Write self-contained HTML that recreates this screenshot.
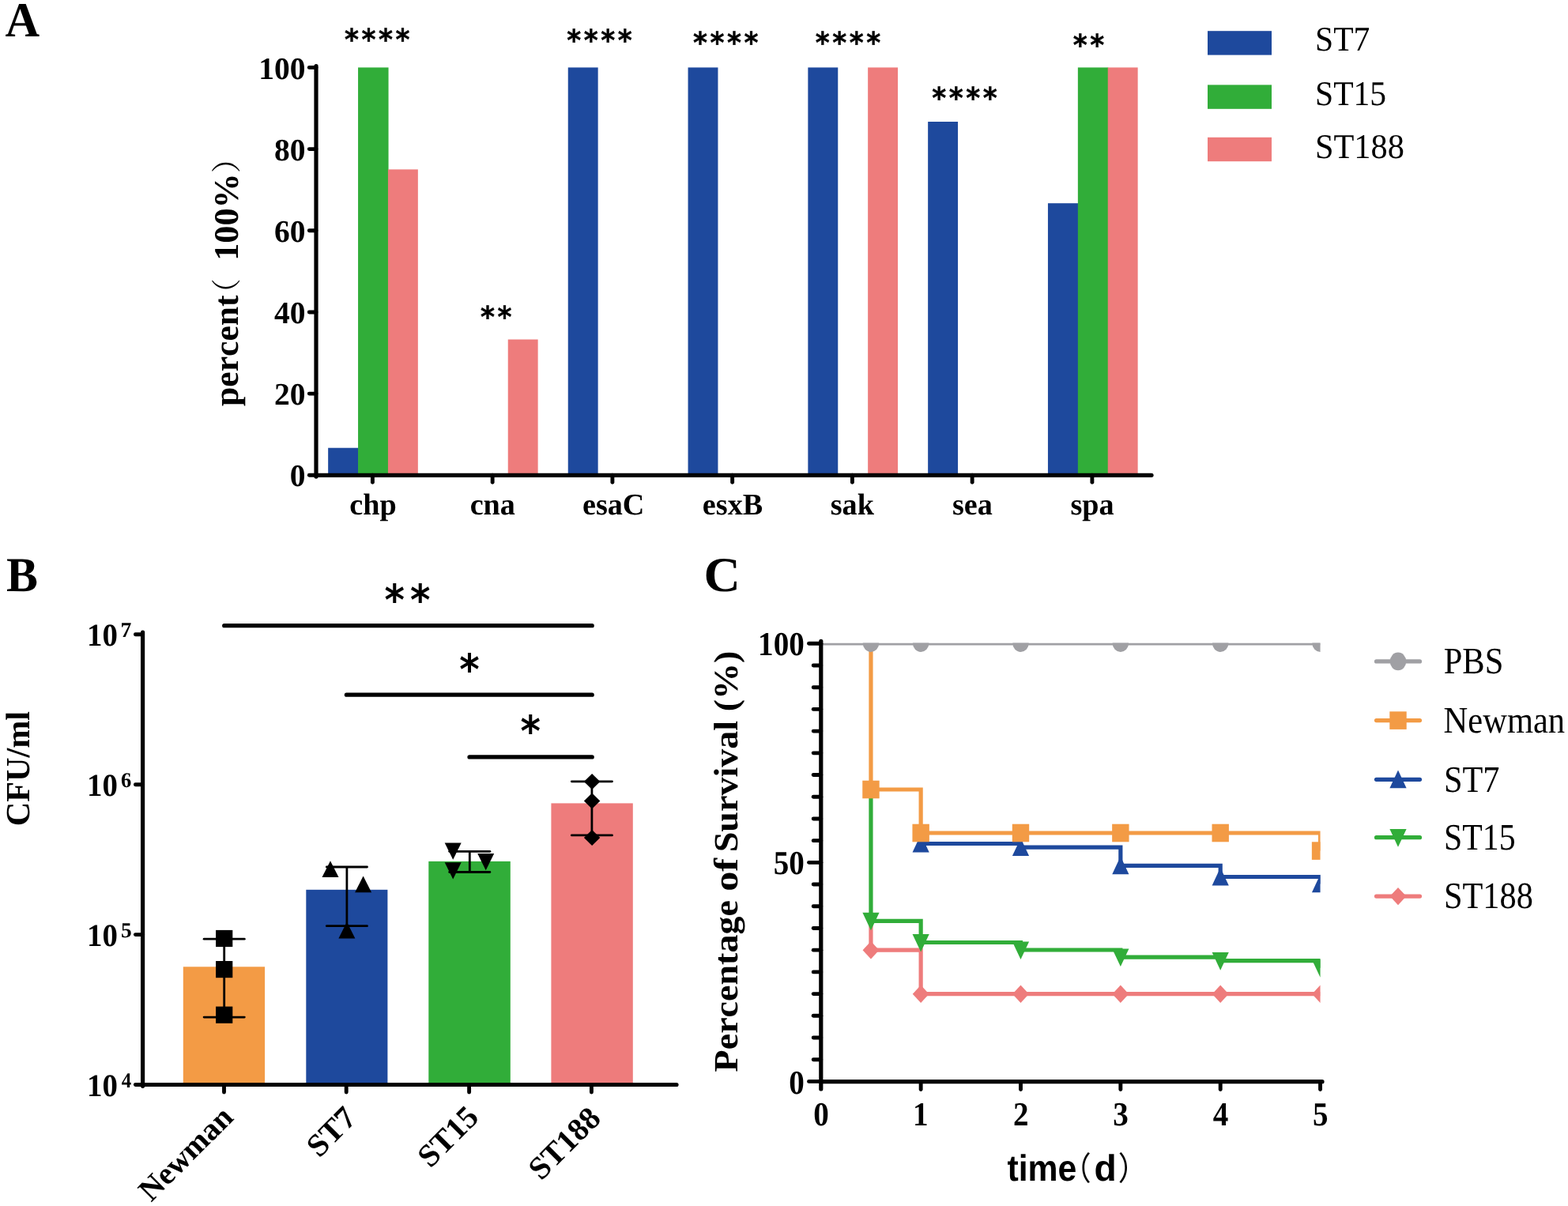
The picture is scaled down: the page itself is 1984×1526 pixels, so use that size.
<!DOCTYPE html>
<html lang="en">
<head>
<meta charset="utf-8">
<title>Figure: virulence genes, CFU and survival</title>
<style>
html,body{margin:0;padding:0;background:#fff;}
body{width:1984px;height:1526px;overflow:hidden;}
svg{display:block;}
text{white-space:pre;font-kerning:none;}
</style>
</head>
<body>
<svg width="1984" height="1526" viewBox="0 0 1984 1526" text-rendering="geometricPrecision" role="img" aria-label="Three-panel figure: A, virulence gene percentages for ST7, ST15 and ST188; B, CFU/ml bar chart; C, survival curves">
<rect x="0" y="0" width="1984" height="1526" fill="#ffffff"/>
<g id="panelA">
<text transform="translate(6.41 46) scale(0.9745 1)" font-family="'Liberation Serif', serif" font-weight="bold" font-size="62" fill="#000">A</text>
<rect x="415.15" y="566.73" width="38.5" height="34.57" fill="#1E499D"/>
<rect x="453.05" y="85.4" width="38.5" height="515.9" fill="#31AD39"/>
<rect x="490.95" y="214.37" width="37.9" height="386.93" fill="#EE7C7C"/>
<rect x="642.75" y="429.51" width="37.9" height="171.79" fill="#EE7C7C"/>
<rect x="718.75" y="85.4" width="37.9" height="515.9" fill="#1E499D"/>
<rect x="870.55" y="85.4" width="37.9" height="515.9" fill="#1E499D"/>
<rect x="1022.35" y="85.4" width="37.9" height="515.9" fill="#1E499D"/>
<rect x="1098.15" y="85.4" width="37.9" height="515.9" fill="#EE7C7C"/>
<rect x="1174.15" y="154.01" width="37.9" height="447.29" fill="#1E499D"/>
<rect x="1325.95" y="257.19" width="38.5" height="344.11" fill="#1E499D"/>
<rect x="1363.85" y="85.4" width="38.5" height="515.9" fill="#31AD39"/>
<rect x="1401.75" y="85.4" width="37.9" height="515.9" fill="#EE7C7C"/>
<line x1="400" y1="83.6" x2="400" y2="603.1" stroke="#000" stroke-width="5.2" stroke-linecap="round"/>
<line x1="399.5" y1="601.3" x2="1457" y2="601.3" stroke="#000" stroke-width="5.2" stroke-linecap="round"/>
<line x1="391.3" y1="601.3" x2="400" y2="601.3" stroke="#000" stroke-width="4.9" stroke-linecap="round"/>
<text transform="translate(366.65 615.4)" font-family="'Liberation Serif', serif" font-weight="bold" font-size="39.5" fill="#000">0</text>
<line x1="391.3" y1="498.12" x2="400" y2="498.12" stroke="#000" stroke-width="4.9" stroke-linecap="round"/>
<text transform="translate(346.9 512.22)" font-family="'Liberation Serif', serif" font-weight="bold" font-size="39.5" fill="#000">20</text>
<line x1="391.3" y1="394.94" x2="400" y2="394.94" stroke="#000" stroke-width="4.9" stroke-linecap="round"/>
<text transform="translate(346.9 409.04)" font-family="'Liberation Serif', serif" font-weight="bold" font-size="39.5" fill="#000">40</text>
<line x1="391.3" y1="291.76" x2="400" y2="291.76" stroke="#000" stroke-width="4.9" stroke-linecap="round"/>
<text transform="translate(346.9 305.86)" font-family="'Liberation Serif', serif" font-weight="bold" font-size="39.5" fill="#000">60</text>
<line x1="391.3" y1="188.58" x2="400" y2="188.58" stroke="#000" stroke-width="4.9" stroke-linecap="round"/>
<text transform="translate(346.9 202.68)" font-family="'Liberation Serif', serif" font-weight="bold" font-size="39.5" fill="#000">80</text>
<line x1="391.3" y1="85.4" x2="400" y2="85.4" stroke="#000" stroke-width="4.9" stroke-linecap="round"/>
<text transform="translate(327.15 99.5)" font-family="'Liberation Serif', serif" font-weight="bold" font-size="39.5" fill="#000">100</text>
<line x1="471.4" y1="601.3" x2="471.4" y2="610.2" stroke="#000" stroke-width="4.9" stroke-linecap="round"/>
<text transform="translate(442.3 650.8)" font-family="'Liberation Serif', serif" font-weight="bold" font-size="38.2" fill="#000">chp</text>
<line x1="623.15" y1="601.3" x2="623.15" y2="610.2" stroke="#000" stroke-width="4.9" stroke-linecap="round"/>
<text transform="translate(594.64 650.8)" font-family="'Liberation Serif', serif" font-weight="bold" font-size="38.2" fill="#000">cna</text>
<line x1="774.9" y1="601.3" x2="774.9" y2="610.2" stroke="#000" stroke-width="4.9" stroke-linecap="round"/>
<text transform="translate(736.95 650.8)" font-family="'Liberation Serif', serif" font-weight="bold" font-size="38.2" fill="#000">esaC</text>
<line x1="926.65" y1="601.3" x2="926.65" y2="610.2" stroke="#000" stroke-width="4.9" stroke-linecap="round"/>
<text transform="translate(888.83 650.8)" font-family="'Liberation Serif', serif" font-weight="bold" font-size="38.2" fill="#000">esxB</text>
<line x1="1078.4" y1="601.3" x2="1078.4" y2="610.2" stroke="#000" stroke-width="4.9" stroke-linecap="round"/>
<text transform="translate(1050.74 650.8)" font-family="'Liberation Serif', serif" font-weight="bold" font-size="38.2" fill="#000">sak</text>
<line x1="1230.15" y1="601.3" x2="1230.15" y2="610.2" stroke="#000" stroke-width="4.9" stroke-linecap="round"/>
<text transform="translate(1204.9 650.8)" font-family="'Liberation Serif', serif" font-weight="bold" font-size="38.2" fill="#000">sea</text>
<line x1="1381.9" y1="601.3" x2="1381.9" y2="610.2" stroke="#000" stroke-width="4.9" stroke-linecap="round"/>
<text transform="translate(1354.51 650.8)" font-family="'Liberation Serif', serif" font-weight="bold" font-size="38.2" fill="#000">spa</text>
<g id="a-ylabel"><text transform="translate(301.2 511) rotate(-90) translate(-3.05 0)" font-family="'Liberation Serif', serif" font-weight="bold" font-size="43.7" fill="#000">percent</text><text transform="translate(300.3 390.1) rotate(-90)" font-family="'Liberation Serif', 'Noto Serif CJK SC', serif" font-weight="normal" font-size="37.7" fill="#000">（</text><text transform="translate(301.2 511) rotate(-90) translate(170.1 0) scale(1.0123 1)" font-family="'Liberation Serif', serif" font-weight="bold" font-size="43.7" fill="#000"> 100%</text><text transform="translate(300.3 218.9) rotate(-90)" font-family="'Liberation Serif', 'Noto Serif CJK SC', serif" font-weight="normal" font-size="37.7" fill="#000">）</text></g>
<text transform="translate(435.96 63.2) scale(0.9227 1)" font-family="'DejaVu Sans', sans-serif" font-weight="bold" font-size="37.26" letter-spacing="3.82" fill="#000" stroke="#000" stroke-width="0.45" stroke-linejoin="miter">****</text>
<text transform="translate(608.06 414.4) scale(0.9227 1)" font-family="'DejaVu Sans', sans-serif" font-weight="bold" font-size="37.26" letter-spacing="3.82" fill="#000" stroke="#000" stroke-width="0.45" stroke-linejoin="miter">**</text>
<text transform="translate(717.26 64.2) scale(0.9227 1)" font-family="'DejaVu Sans', sans-serif" font-weight="bold" font-size="37.26" letter-spacing="3.82" fill="#000" stroke="#000" stroke-width="0.45" stroke-linejoin="miter">****</text>
<text transform="translate(877.06 66.7) scale(0.9227 1)" font-family="'DejaVu Sans', sans-serif" font-weight="bold" font-size="37.26" letter-spacing="3.82" fill="#000" stroke="#000" stroke-width="0.45" stroke-linejoin="miter">****</text>
<text transform="translate(1031.76 67.2) scale(0.9227 1)" font-family="'DejaVu Sans', sans-serif" font-weight="bold" font-size="37.26" letter-spacing="3.82" fill="#000" stroke="#000" stroke-width="0.45" stroke-linejoin="miter">****</text>
<text transform="translate(1179.16 136.8) scale(0.9227 1)" font-family="'DejaVu Sans', sans-serif" font-weight="bold" font-size="37.26" letter-spacing="3.82" fill="#000" stroke="#000" stroke-width="0.45" stroke-linejoin="miter">****</text>
<text transform="translate(1357.86 69.7) scale(0.9227 1)" font-family="'DejaVu Sans', sans-serif" font-weight="bold" font-size="37.26" letter-spacing="3.82" fill="#000" stroke="#000" stroke-width="0.45" stroke-linejoin="miter">**</text>
<rect x="1528" y="39.2" width="81" height="30.4" fill="#1E499D"/>
<text transform="translate(1664.02 63.9) scale(0.9488 1)" font-family="'Liberation Serif', serif" font-weight="normal" font-size="43.8" fill="#000">ST7</text>
<rect x="1528" y="107.4" width="81" height="30.4" fill="#31AD39"/>
<text transform="translate(1664.02 132.6) scale(0.9493 1)" font-family="'Liberation Serif', serif" font-weight="normal" font-size="43.8" fill="#000">ST15</text>
<rect x="1528" y="173.8" width="81" height="30.4" fill="#EE7C7C"/>
<text transform="translate(1663.97 199.8) scale(0.9660 1)" font-family="'Liberation Serif', serif" font-weight="normal" font-size="43.8" fill="#000">ST188</text>
</g>
<g id="panelB">
<text transform="translate(8.07 748.2) scale(0.9671 1)" font-family="'Liberation Serif', serif" font-weight="bold" font-size="62" fill="#000">B</text>
<rect x="231.8" y="1223.3" width="103.3" height="149.2" fill="#F39B45"/>
<rect x="387.3" y="1125.8" width="103.1" height="246.7" fill="#1E499D"/>
<rect x="542.3" y="1089.9" width="103.5" height="282.6" fill="#31AD39"/>
<rect x="697.4" y="1016.4" width="103.4" height="356.1" fill="#EE7C7C"/>
<line x1="180.6" y1="800.1" x2="180.6" y2="1374.3" stroke="#000" stroke-width="5.2" stroke-linecap="round"/>
<line x1="180.1" y1="1372.5" x2="856" y2="1372.5" stroke="#000" stroke-width="5.2" stroke-linecap="round"/>
<line x1="171.4" y1="1372.5" x2="180.6" y2="1372.5" stroke="#000" stroke-width="4.9" stroke-linecap="round"/>
<g><text transform="translate(110.09 1387.1) scale(0.9652 1)" font-family="'Liberation Serif', serif" font-weight="bold" font-size="40.3" fill="#000">10</text><text transform="translate(153.66 1375.7) scale(0.9185 1)" font-family="'Liberation Serif', serif" font-weight="bold" font-size="27" fill="#000">4</text></g>
<line x1="171.4" y1="1182.6" x2="180.6" y2="1182.6" stroke="#000" stroke-width="4.9" stroke-linecap="round"/>
<g><text transform="translate(110.09 1197.2) scale(0.9652 1)" font-family="'Liberation Serif', serif" font-weight="bold" font-size="40.3" fill="#000">10</text><text transform="translate(152.9 1185.8) scale(1.0149 1)" font-family="'Liberation Serif', serif" font-weight="bold" font-size="27" fill="#000">5</text></g>
<line x1="171.4" y1="992.7" x2="180.6" y2="992.7" stroke="#000" stroke-width="4.9" stroke-linecap="round"/>
<g><text transform="translate(110.09 1007.3) scale(0.9652 1)" font-family="'Liberation Serif', serif" font-weight="bold" font-size="40.3" fill="#000">10</text><text transform="translate(153.09 995.9) scale(0.9842 1)" font-family="'Liberation Serif', serif" font-weight="bold" font-size="27" fill="#000">6</text></g>
<line x1="171.4" y1="802.8" x2="180.6" y2="802.8" stroke="#000" stroke-width="4.9" stroke-linecap="round"/>
<g><text transform="translate(110.09 817.4) scale(0.9652 1)" font-family="'Liberation Serif', serif" font-weight="bold" font-size="40.3" fill="#000">10</text><text transform="translate(152.42 806) scale(1.0267 1)" font-family="'Liberation Serif', serif" font-weight="bold" font-size="27" fill="#000">7</text></g>
<line x1="283.5" y1="1372.5" x2="283.5" y2="1382" stroke="#000" stroke-width="4.9" stroke-linecap="round"/>
<line x1="438.2" y1="1372.5" x2="438.2" y2="1382" stroke="#000" stroke-width="4.9" stroke-linecap="round"/>
<line x1="593.6" y1="1372.5" x2="593.6" y2="1382" stroke="#000" stroke-width="4.9" stroke-linecap="round"/>
<line x1="748.4" y1="1372.5" x2="748.4" y2="1382" stroke="#000" stroke-width="4.9" stroke-linecap="round"/>
<line x1="283.7" y1="1188.2" x2="283.7" y2="1287.1" stroke="#000" stroke-width="2.8" stroke-linecap="butt"/>
<line x1="258.1" y1="1188.2" x2="309.3" y2="1188.2" stroke="#000" stroke-width="2.8" stroke-linecap="round"/>
<line x1="258.1" y1="1287.1" x2="309.3" y2="1287.1" stroke="#000" stroke-width="2.8" stroke-linecap="round"/>
<rect x="273.1" y="1176.9" width="21.2" height="21.2" fill="#000"/>
<rect x="273.1" y="1216" width="21.2" height="21.2" fill="#000"/>
<rect x="273.1" y="1273.6" width="21.2" height="21.2" fill="#000"/>
<line x1="438.9" y1="1097" x2="438.9" y2="1171.7" stroke="#000" stroke-width="2.8" stroke-linecap="butt"/>
<line x1="413.3" y1="1097" x2="464.5" y2="1097" stroke="#000" stroke-width="2.8" stroke-linecap="round"/>
<line x1="413.3" y1="1171.7" x2="464.5" y2="1171.7" stroke="#000" stroke-width="2.8" stroke-linecap="round"/>
<polygon points="418,1089.3 428.5,1110.1 407.5,1110.1" fill="#000"/>
<polygon points="459.6,1108.5 470.1,1129.3 449.1,1129.3" fill="#000"/>
<polygon points="438.9,1166.6 449.4,1187.4 428.4,1187.4" fill="#000"/>
<line x1="594.3" y1="1077.3" x2="594.3" y2="1103.5" stroke="#000" stroke-width="2.8" stroke-linecap="butt"/>
<line x1="568.7" y1="1077.3" x2="619.9" y2="1077.3" stroke="#000" stroke-width="2.8" stroke-linecap="round"/>
<line x1="568.7" y1="1103.5" x2="619.9" y2="1103.5" stroke="#000" stroke-width="2.8" stroke-linecap="round"/>
<polygon points="562.7,1066.6 583.7,1066.6 573.2,1087.7" fill="#000"/>
<polygon points="604.2,1080.1 625.2,1080.1 614.7,1101.2" fill="#000"/>
<polygon points="562.7,1091.3 583.7,1091.3 573.2,1112.4" fill="#000"/>
<line x1="748.9" y1="988.8" x2="748.9" y2="1056.9" stroke="#000" stroke-width="2.8" stroke-linecap="butt"/>
<line x1="723.3" y1="988.8" x2="774.5" y2="988.8" stroke="#000" stroke-width="2.8" stroke-linecap="round"/>
<line x1="723.3" y1="1056.9" x2="774.5" y2="1056.9" stroke="#000" stroke-width="2.8" stroke-linecap="round"/>
<polygon points="749.1,979.1 759.3,989.1 749.1,999.1 738.9,989.1" fill="#000"/>
<polygon points="749.1,1003.5 759.3,1013.5 749.1,1023.5 738.9,1013.5" fill="#000"/>
<polygon points="749.1,1050 759.3,1060 749.1,1070 738.9,1060" fill="#000"/>
<line x1="283.7" y1="791.7" x2="749.2" y2="791.7" stroke="#000" stroke-width="5.2" stroke-linecap="round"/>
<line x1="438.4" y1="879.2" x2="749.2" y2="879.2" stroke="#000" stroke-width="5.2" stroke-linecap="round"/>
<line x1="594" y1="957.9" x2="749.2" y2="957.9" stroke="#000" stroke-width="5.2" stroke-linecap="round"/>
<text transform="translate(486.48 777.76) scale(0.9039 1)" font-family="'DejaVu Sans', sans-serif" font-weight="bold" font-size="53.84" letter-spacing="7.91" fill="#000">**</text>
<text transform="translate(581.18 865.56) scale(0.9039 1)" font-family="'DejaVu Sans', sans-serif" font-weight="bold" font-size="53.84" letter-spacing="8.35" fill="#000">*</text>
<text transform="translate(658.48 944.16) scale(0.9039 1)" font-family="'DejaVu Sans', sans-serif" font-weight="bold" font-size="53.84" letter-spacing="8.35" fill="#000">*</text>
<text transform="translate(36.7 1043.3) rotate(-90) translate(-2.06 0) scale(0.9870 1)" font-family="'Liberation Serif', serif" font-weight="bold" font-size="42.8" fill="#000">CFU/ml</text>
<g transform="translate(296.6 1416.3) scale(1.0 1)">
<text transform="translate(0 0) rotate(-45) translate(-148.98 0)" font-family="'Liberation Serif', serif" font-weight="bold" font-size="39.6" fill="#000">Newman</text>
</g>
<g transform="translate(452.3 1417.5) scale(1.0 1)">
<text transform="translate(0 0) rotate(-45) translate(-68.46 0)" font-family="'Liberation Serif', serif" font-weight="bold" font-size="40.3" fill="#000">ST7</text>
</g>
<g transform="translate(606.7 1416.8) scale(1.0 1)">
<text transform="translate(0 0) rotate(-45) translate(-88.12 0)" font-family="'Liberation Serif', serif" font-weight="bold" font-size="40.3" fill="#000">ST15</text>
</g>
<g transform="translate(761.4 1418.1) scale(1.0 1)">
<text transform="translate(0 0) rotate(-45) translate(-108.4 0)" font-family="'Liberation Serif', serif" font-weight="bold" font-size="40.3" fill="#000">ST188</text>
</g>
</g>
<g id="panelC">
<text transform="translate(890.57 748) scale(1.0345 1)" font-family="'Liberation Serif', serif" font-weight="bold" font-size="62" fill="#000">C</text>
<svg x="1038.8" y="813.4" width="631.75" height="564.1" viewBox="1038.8 813.4 631.75 564.1" overflow="hidden">
<path d="M1101.97 1166 H1101.97 V1202.2 H1165.15 V1257.7 H1291.5 V1257.7 H1417.85 V1257.7 H1544.2 V1257.7 H1670.55 V1257.7" fill="none" stroke="#EE7C7C" stroke-width="5.2" stroke-linejoin="miter"/>
<polygon points="1101.97,1191 1112.38,1202.2 1101.97,1213.4 1091.57,1202.2" fill="#EE7C7C"/>
<polygon points="1165.15,1246.5 1175.55,1257.7 1165.15,1268.9 1154.75,1257.7" fill="#EE7C7C"/>
<polygon points="1291.5,1246.5 1301.9,1257.7 1291.5,1268.9 1281.1,1257.7" fill="#EE7C7C"/>
<polygon points="1417.85,1246.5 1428.25,1257.7 1417.85,1268.9 1407.45,1257.7" fill="#EE7C7C"/>
<polygon points="1544.2,1246.5 1554.6,1257.7 1544.2,1268.9 1533.8,1257.7" fill="#EE7C7C"/>
<polygon points="1670.55,1246.5 1680.95,1257.7 1670.55,1268.9 1660.15,1257.7" fill="#EE7C7C"/>
<path d="M1101.97 1000 H1101.97 V1165.3 H1165.15 V1192.5 H1291.5 V1202 H1417.85 V1211.1 H1544.2 V1215.7 H1670.55 V1224.8" fill="none" stroke="#31AD39" stroke-width="5.2" stroke-linejoin="miter"/>
<polygon points="1091.38,1154.7 1112.57,1154.7 1101.97,1177.3" fill="#31AD39"/>
<polygon points="1154.55,1181.9 1175.75,1181.9 1165.15,1204.5" fill="#31AD39"/>
<polygon points="1280.9,1191.4 1302.1,1191.4 1291.5,1214" fill="#31AD39"/>
<polygon points="1407.25,1200.5 1428.45,1200.5 1417.85,1223.1" fill="#31AD39"/>
<polygon points="1533.6,1205.1 1554.8,1205.1 1544.2,1227.7" fill="#31AD39"/>
<polygon points="1659.95,1214.2 1681.15,1214.2 1670.55,1236.8" fill="#31AD39"/>
<path d="M1165.15 1067.5 H1291.5 V1072.2 H1417.85 V1095.3 H1544.2 V1109.5 H1670.55 V1118.4" fill="none" stroke="#1E499D" stroke-width="5.2" stroke-linejoin="miter"/>
<polygon points="1165.15,1055.7 1175.75,1078.4 1154.55,1078.4" fill="#1E499D"/>
<polygon points="1291.5,1060.4 1302.1,1083.1 1280.9,1083.1" fill="#1E499D"/>
<polygon points="1417.85,1083.5 1428.45,1106.2 1407.25,1106.2" fill="#1E499D"/>
<polygon points="1544.2,1097.7 1554.8,1120.4 1533.6,1120.4" fill="#1E499D"/>
<polygon points="1670.55,1106.6 1681.15,1129.3 1659.95,1129.3" fill="#1E499D"/>
<path d="M1101.97 814.3 H1101.97 V999 H1165.15 V1054 H1291.5 V1054 H1417.85 V1054 H1544.2 V1054 H1670.55 V1076.6" fill="none" stroke="#F39B45" stroke-width="5.2" stroke-linejoin="miter"/>
<rect x="1091.27" y="987.7" width="21.4" height="22.6" fill="#F39B45"/>
<rect x="1154.45" y="1042.7" width="21.4" height="22.6" fill="#F39B45"/>
<rect x="1280.8" y="1042.7" width="21.4" height="22.6" fill="#F39B45"/>
<rect x="1407.15" y="1042.7" width="21.4" height="22.6" fill="#F39B45"/>
<rect x="1533.5" y="1042.7" width="21.4" height="22.6" fill="#F39B45"/>
<rect x="1659.85" y="1065.3" width="21.4" height="22.6" fill="#F39B45"/>
<path d="M1038.8 814.9 H1670.55" fill="none" stroke="#A0A0A4" stroke-width="3"/>
<ellipse cx="1101.97" cy="814.3" rx="10.2" ry="10.7" fill="#A0A0A4"/>
<ellipse cx="1165.15" cy="814.3" rx="10.2" ry="10.7" fill="#A0A0A4"/>
<ellipse cx="1291.5" cy="814.3" rx="10.2" ry="10.7" fill="#A0A0A4"/>
<ellipse cx="1417.85" cy="814.3" rx="10.2" ry="10.7" fill="#A0A0A4"/>
<ellipse cx="1544.2" cy="814.3" rx="10.2" ry="10.7" fill="#A0A0A4"/>
<ellipse cx="1670.55" cy="814.3" rx="10.2" ry="10.7" fill="#A0A0A4"/>
</svg>
<line x1="1038.8" y1="811.3" x2="1038.8" y2="1377.9" stroke="#000" stroke-width="5.2" stroke-linecap="round"/>
<line x1="1038.3" y1="1368.65" x2="1673" y2="1368.65" stroke="#000" stroke-width="5.2" stroke-linecap="round"/>
<line x1="1023.5" y1="1368.4" x2="1038.8" y2="1368.4" stroke="#000" stroke-width="4.9" stroke-linecap="round"/>
<line x1="1029.2" y1="1340.7" x2="1038.8" y2="1340.7" stroke="#000" stroke-width="4.9" stroke-linecap="round"/>
<line x1="1029.2" y1="1312.99" x2="1038.8" y2="1312.99" stroke="#000" stroke-width="4.9" stroke-linecap="round"/>
<line x1="1029.2" y1="1285.29" x2="1038.8" y2="1285.29" stroke="#000" stroke-width="4.9" stroke-linecap="round"/>
<line x1="1029.2" y1="1257.58" x2="1038.8" y2="1257.58" stroke="#000" stroke-width="4.9" stroke-linecap="round"/>
<line x1="1029.2" y1="1229.88" x2="1038.8" y2="1229.88" stroke="#000" stroke-width="4.9" stroke-linecap="round"/>
<line x1="1029.2" y1="1202.17" x2="1038.8" y2="1202.17" stroke="#000" stroke-width="4.9" stroke-linecap="round"/>
<line x1="1029.2" y1="1174.47" x2="1038.8" y2="1174.47" stroke="#000" stroke-width="4.9" stroke-linecap="round"/>
<line x1="1029.2" y1="1146.76" x2="1038.8" y2="1146.76" stroke="#000" stroke-width="4.9" stroke-linecap="round"/>
<line x1="1029.2" y1="1119.06" x2="1038.8" y2="1119.06" stroke="#000" stroke-width="4.9" stroke-linecap="round"/>
<line x1="1023.5" y1="1091.35" x2="1038.8" y2="1091.35" stroke="#000" stroke-width="4.9" stroke-linecap="round"/>
<line x1="1029.2" y1="1063.64" x2="1038.8" y2="1063.64" stroke="#000" stroke-width="4.9" stroke-linecap="round"/>
<line x1="1029.2" y1="1035.94" x2="1038.8" y2="1035.94" stroke="#000" stroke-width="4.9" stroke-linecap="round"/>
<line x1="1029.2" y1="1008.24" x2="1038.8" y2="1008.24" stroke="#000" stroke-width="4.9" stroke-linecap="round"/>
<line x1="1029.2" y1="980.53" x2="1038.8" y2="980.53" stroke="#000" stroke-width="4.9" stroke-linecap="round"/>
<line x1="1029.2" y1="952.83" x2="1038.8" y2="952.83" stroke="#000" stroke-width="4.9" stroke-linecap="round"/>
<line x1="1029.2" y1="925.12" x2="1038.8" y2="925.12" stroke="#000" stroke-width="4.9" stroke-linecap="round"/>
<line x1="1029.2" y1="897.41" x2="1038.8" y2="897.41" stroke="#000" stroke-width="4.9" stroke-linecap="round"/>
<line x1="1029.2" y1="869.71" x2="1038.8" y2="869.71" stroke="#000" stroke-width="4.9" stroke-linecap="round"/>
<line x1="1029.2" y1="842" x2="1038.8" y2="842" stroke="#000" stroke-width="4.9" stroke-linecap="round"/>
<line x1="1023.5" y1="814.3" x2="1038.8" y2="814.3" stroke="#000" stroke-width="4.9" stroke-linecap="round"/>
<line x1="1165.15" y1="1368.4" x2="1165.15" y2="1378.6" stroke="#000" stroke-width="4.9" stroke-linecap="round"/>
<line x1="1291.5" y1="1368.4" x2="1291.5" y2="1378.6" stroke="#000" stroke-width="4.9" stroke-linecap="round"/>
<line x1="1417.85" y1="1368.4" x2="1417.85" y2="1378.6" stroke="#000" stroke-width="4.9" stroke-linecap="round"/>
<line x1="1544.2" y1="1368.4" x2="1544.2" y2="1378.6" stroke="#000" stroke-width="4.9" stroke-linecap="round"/>
<line x1="1670.55" y1="1368.4" x2="1670.55" y2="1378.6" stroke="#000" stroke-width="4.9" stroke-linecap="round"/>
<text transform="translate(998.22 1383.5) scale(0.9212 1)" font-family="'Liberation Serif', serif" font-weight="bold" font-size="42.5" fill="#000">0</text>
<text transform="translate(978.64 1106.45) scale(0.9212 1)" font-family="'Liberation Serif', serif" font-weight="bold" font-size="42.5" fill="#000">50</text>
<text transform="translate(959.06 829.4) scale(0.9212 1)" font-family="'Liberation Serif', serif" font-weight="bold" font-size="42.5" fill="#000">100</text>
<text transform="translate(1029.21 1424.3) scale(0.9212 1)" font-family="'Liberation Serif', serif" font-weight="bold" font-size="42.5" fill="#000">0</text>
<text transform="translate(1155.01 1424.3) scale(0.9212 1)" font-family="'Liberation Serif', serif" font-weight="bold" font-size="42.5" fill="#000">1</text>
<text transform="translate(1281.93 1424.3) scale(0.9212 1)" font-family="'Liberation Serif', serif" font-weight="bold" font-size="42.5" fill="#000">2</text>
<text transform="translate(1408.2 1424.3) scale(0.9212 1)" font-family="'Liberation Serif', serif" font-weight="bold" font-size="42.5" fill="#000">3</text>
<text transform="translate(1534.71 1424.3) scale(0.9212 1)" font-family="'Liberation Serif', serif" font-weight="bold" font-size="42.5" fill="#000">4</text>
<text transform="translate(1660.9 1424.3) scale(0.9212 1)" font-family="'Liberation Serif', serif" font-weight="bold" font-size="42.5" fill="#000">5</text>
<g id="c-ylabel"><text transform="translate(933.2 1355.6) rotate(-90) translate(-0.79 0) scale(1.0707 1)" font-family="'Liberation Serif', serif" font-weight="bold" font-size="43" fill="#000">Percentage </text><text transform="translate(933.2 1355.6) rotate(-90) translate(227.89 0) scale(1.1647 1)" font-family="'Liberation Serif', serif" font-weight="bold" font-size="43" fill="#000">of </text><text transform="translate(933.2 1355.6) rotate(-90) translate(277.35 0) scale(1.0714 1)" font-family="'Liberation Serif', serif" font-weight="bold" font-size="43" fill="#000">Survival (%)</text></g>
<g id="c-xlabel"><text transform="translate(1274.38 1494.1) scale(0.9202 1)" font-family="'Liberation Sans', sans-serif" font-weight="bold" font-size="46.5" fill="#000">time</text><text transform="translate(1343.7 1493.4) scale(0.9 1)" font-family="'Liberation Sans', 'Noto Sans CJK SC', sans-serif" font-weight="normal" font-size="41" fill="#000">（</text><text transform="translate(1384.5 1494.1) scale(0.9944 1)" font-family="'Liberation Sans', sans-serif" font-weight="bold" font-size="46.5" fill="#000">d</text><text transform="translate(1414.8 1493.4) scale(0.9 1)" font-family="'Liberation Sans', 'Noto Sans CJK SC', sans-serif" font-weight="normal" font-size="41" fill="#000">）</text></g>
<line x1="1741.5" y1="836.9" x2="1796.5" y2="836.9" stroke="#A0A0A4" stroke-width="5.2" stroke-linecap="round"/>
<ellipse cx="1769" cy="836.9" rx="10.3" ry="11.3" fill="#A0A0A4"/>
<text transform="translate(1826.67 852.4) scale(0.8994 1)" font-family="'Liberation Serif', serif" font-weight="normal" font-size="47.3" fill="#000">PBS</text>
<line x1="1741.5" y1="911.6" x2="1796.5" y2="911.6" stroke="#F39B45" stroke-width="5.2" stroke-linecap="round"/>
<rect x="1758.3" y="900.3" width="21.4" height="22.6" fill="#F39B45"/>
<text transform="translate(1826.57 927.1) scale(0.8994 1)" font-family="'Liberation Serif', serif" font-weight="normal" font-size="47.3" fill="#000">Newman</text>
<line x1="1741.5" y1="986.3" x2="1796.5" y2="986.3" stroke="#1E499D" stroke-width="5.2" stroke-linecap="round"/>
<polygon points="1769,974.5 1779.6,997.2 1758.4,997.2" fill="#1E499D"/>
<text transform="translate(1826.97 1001.8) scale(0.8948 1)" font-family="'Liberation Serif', serif" font-weight="normal" font-size="47.3" fill="#000">ST7</text>
<line x1="1741.5" y1="1059.7" x2="1796.5" y2="1059.7" stroke="#31AD39" stroke-width="5.2" stroke-linecap="round"/>
<polygon points="1758.4,1049.1 1779.6,1049.1 1769,1071.7" fill="#31AD39"/>
<text transform="translate(1827.01 1075.2) scale(0.8832 1)" font-family="'Liberation Serif', serif" font-weight="normal" font-size="47.3" fill="#000">ST15</text>
<line x1="1741.5" y1="1134.1" x2="1796.5" y2="1134.1" stroke="#EE7C7C" stroke-width="5.2" stroke-linecap="round"/>
<polygon points="1769,1122.9 1779.4,1134.1 1769,1145.3 1758.6,1134.1" fill="#EE7C7C"/>
<text transform="translate(1826.97 1149.1) scale(0.8945 1)" font-family="'Liberation Serif', serif" font-weight="normal" font-size="47.3" fill="#000">ST188</text>
</g>
</svg>
</body>
</html>
